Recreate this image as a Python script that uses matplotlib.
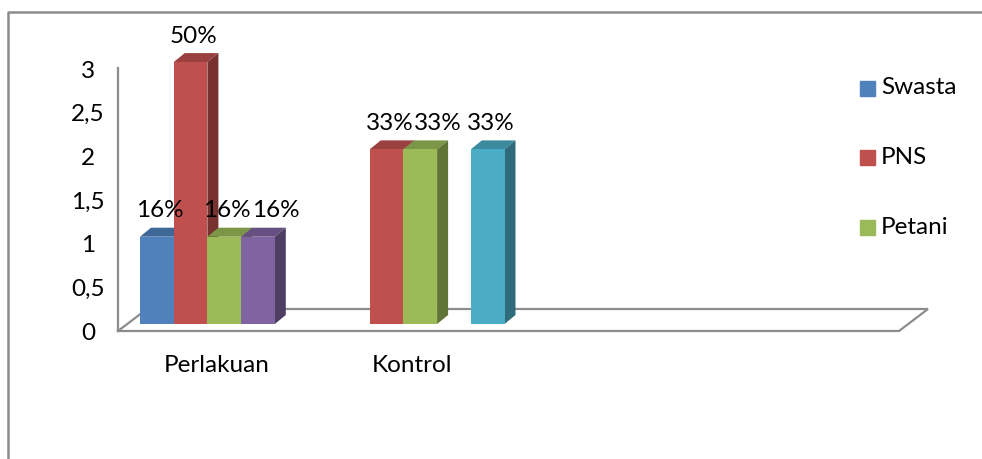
import matplotlib
matplotlib.use("Agg")
import matplotlib.pyplot as plt
from matplotlib.patches import Polygon, Rectangle
from matplotlib.lines import Line2D
import numpy as np

plt.rcParams.update({"font.family": ["Lato", "DejaVu Sans"], "font.size": 17.5})

# ---- data ----
categories = ["Perlakuan", "Kontrol"]
series_names = ["Swasta", "PNS", "Petani", "Seri 4", "Seri 5"]
legend_shown = ["Swasta", "PNS", "Petani"]   # legend in the source is cut after three entries
swasta = [1, 0]
pns = [3, 2]
petani = [1, 2]
seri4 = [1, 0]
seri5 = [0, 2]
labels_perlakuan = ["16%", "50%", "16%", "16%", ""]
labels_kontrol = ["", "33%", "33%", "", "33%"]
yticks = [0, 0.5, 1, 1.5, 2, 2.5, 3]
ytick_labels = ["0", "0,5", "1", "1,5", "2", "2,5", "3"]

COLORS = ["#4F81BD", "#C0504D", "#9BBB59", "#8064A2", "#4BACC6"]
GRAYLINE = "#8c8c8c"

W, H = 982, 459
fig = plt.figure(figsize=(W/100, H/100), dpi=100)
fig.patch.set_facecolor("white")

# axes: x in category units (196 px each), y in value units (87.3 px each)
PX_X, PX_Y = 196.0, 87.3
ax = fig.add_axes([118/W, (H-331)/H, 781/W, (331-20)/H])
ax.set_xlim(-106.25/PX_X, 674.75/PX_X)
ax.set_ylim(0, 311/PX_Y)
for s in ax.spines.values():
    s.set_visible(False)
ax.patch.set_alpha(0)
ax.set_xticks([])
ax.set_yticks(yticks)
ax.set_yticklabels(ytick_labels)
ax.tick_params(axis="y", length=0, pad=21.5)
for t in ax.get_yticklabels():
    t.set_horizontalalignment("center")
    t.set_color("black")

x0, x1 = ax.get_xlim()
fd_x, fd_y = 29/PX_X, 22/PX_Y        # floor depth
ax.plot([x0, x1, x1 + fd_x, x0 + fd_x, x0], [0, 0, fd_y, fd_y, 0],
        color=GRAYLINE, lw=1.6, clip_on=False, zorder=1, solid_joinstyle="miter")
ax.plot([x0, x0], [0, 263/PX_Y], color=GRAYLINE, lw=1.6, clip_on=False, zorder=1)

# bars
data = [swasta, pns, petani, seri4, seri5]
labels = [labels_perlakuan, labels_kontrol]
w = 33.7/PX_X
base = 7/PX_Y
dx, dy = 11/PX_X, 9/PX_Y

def shade(c, f):
    r, g, b = matplotlib.colors.to_rgb(c)
    return (r*f, g*f, b*f)

texts = []
k = 0
for j, cat in enumerate(categories):
    for i, vals in enumerate(data):
        v = vals[j]
        k += 1
        if v == 0:
            continue
        xc = j + (i - 2) * w
        xl, xr = xc - w/2, xc + w/2
        top = base + v
        z = 3 + k * 0.05
        ax.bar(xc, v, width=w, bottom=base, color=COLORS[i], zorder=z + 0.02,
               clip_on=False, linewidth=0)
        ax.add_patch(Polygon([(xl, top), (xr, top), (xr + dx, top + dy), (xl + dx, top + dy)],
                             closed=True, color=shade(COLORS[i], 0.8), lw=0, zorder=z, clip_on=False))
        ax.add_patch(Polygon([(xr, base), (xr, top), (xr + dx, top + dy), (xr + dx, base + dy)],
                             closed=True, color=shade(COLORS[i], 0.62), lw=0, zorder=z, clip_on=False))
        lab = labels[j][i]
        if lab:
            texts.append(ax.text(xc + 3/PX_X, top + 26/PX_Y, lab, ha="center", va="center", zorder=10))

# push data labels right when they would collide with the one to their left
fig.canvas.draw()
r = fig.canvas.get_renderer()
prev = None
for t in texts:
    bb = t.get_window_extent(r)
    if prev is not None and bb.y0 < prev.y1 and bb.y1 > prev.y0 and bb.x0 < prev.x1:
        shift = prev.x1 - bb.x0 + 1
        x, y = t.get_position()
        t.set_position((x + shift/PX_X, y))
        bb = t.get_window_extent(r)
    prev = bb

for j, cat in enumerate(categories):
    ax.text(j - 8/PX_X, -34/PX_Y, cat, ha="center", va="center")

# legend (only three entries visible in the source)
for n, name in enumerate(legend_shown):
    yc = 88 + n * 69.5
    fig.add_artist(Rectangle((860/W, 1 - (yc + 7.5)/H), 15/W, 15/H,
                             transform=fig.transFigure, color=COLORS[series_names.index(name)]))
    fig.text(881/W, 1 - yc/H, name, ha="left", va="center")

# outer chart frame
fig.add_artist(Line2D([8/W, 8/W, 1], [0, 1 - 12/H, 1 - 12/H], transform=fig.transFigure,
                      color=GRAYLINE, lw=1.8))

fig.savefig("out.png", dpi=100, facecolor="white")
